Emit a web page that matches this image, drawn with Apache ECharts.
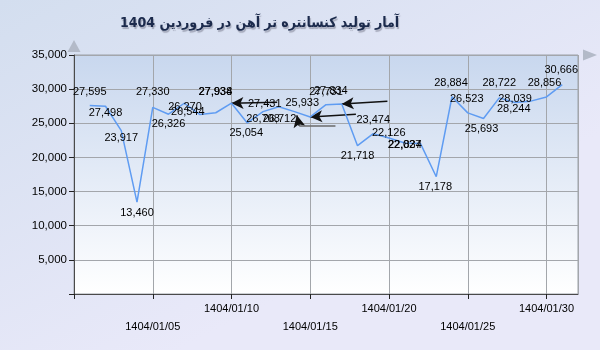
<!DOCTYPE html>
<html>
<head>
<meta charset="utf-8">
<script src="https://cdn.jsdelivr.net/npm/echarts@6/dist/echarts.min.js"></script>
<style>
html,body{margin:0;padding:0;}
#main{width:600px;height:350px;}
</style>
</head>
<body>
<div id="main"></div>
<script>
// ---- data ----
const titleText = 'آمار تولید کنسانتره تر آهن در فروردین 1404';
const datePrefix = '1404/01/';
const days = [1,2,3,4,5,6,7,8,9,10,11,12,13,14,15,16,17,18,19,20,21,22,23,24,25,26,27,28,29,30,31];
const production = [27595,27498,23917,13460,27330,26326,27934,26270,26544,27938,25054,26708,27431,26712,25933,27731,27834,21718,23474,22834,22126,22027,17178,28884,26523,25693,28722,28039,28244,28856,30666];
const yTicks = [0,5000,10000,15000,20000,25000,30000,35000];
const xTickDays = [0,5,10,15,20,25,30];
// points whose labels carry a callout arrow
const calloutDays = [10,15,17];
const bentCalloutDay = 14;

// label placement (style only, px offsets of each value label from its point)
const labelOffsets = [[0,-14],[0,6.5],[0,7],[0,11],[0,-15],[0,10],[31,-11],[-15,-8],[-28,-0.5],[-16,-11],[-1,10],[0,7],[-14,-2.5],[-15,7],[-8,-14],[0,-13],[-11,-13],[0,10],[0,-14],[16,7],[-16,-10],[-16,1],[-1,10.5],[-1,-14],[-1,-14],[-2,10],[0,-15],[0,-4],[-17,7.5],[-2,-14],[-1,-15]];

const fmt = v => v.toLocaleString('en-US');
const pad = d => (d < 10 ? '0' : '') + d;

const chart = echarts.init(document.getElementById('main'), null, {renderer:'canvas'});
const yMin = yTicks[0], yMax = yTicks[yTicks.length-1], yStep = yTicks[1]-yTicks[0];
const xStep = xTickDays[1]-xTickDays[0];

const seriesData = days.map((d,i)=>[d, production[i]]);
const valOf = d => production[days.indexOf(d)];

// callout leader lines, anchored at data points (length/slope are style)
const calloutLines = calloutDays.map(d => [
  {coord:[d, valOf(d)], symbol:'arrow'},
  {coord:[d + 2.9, valOf(d) + (d === 10 ? 150 : 400)], symbol:'none'}
]);
const bd = bentCalloutDay, bv = valOf(bd);
calloutLines.push([
  {coord:[bd + 0.15, bv - 550], symbol:'arrow'},
  {coord:[bd + 0.3, bv - 2100], symbol:'none'}
]);
calloutLines.push([
  {coord:[bd + 0.3, bv - 2100], symbol:'none', lineStyle:{color:'#6a6a6a'}},
  {coord:[bd + 2.6, bv - 2100], symbol:'none'}
]);

const labelFont = 'Liberation Sans, Arial, sans-serif';

const option = {
  backgroundColor: new echarts.graphic.LinearGradient(0,0,0.3,1,[
    {offset:0,color:'#d3deef'},{offset:1,color:'#e9e9f9'}]),
  animation:false,
  title:{
    text:titleText, left:115, top:11,
    textStyle:{fontFamily:'DejaVu Sans Condensed, DejaVu Sans, sans-serif', fontSize:14, fontWeight:'bold', color:'#1b2a4c',
      textShadowColor:'rgba(60,60,80,0.35)', textShadowOffsetX:1, textShadowOffsetY:2, textShadowBlur:1}
  },
  grid:{left:74, right:22, top:55, bottom:56, show:true,
    backgroundColor: new echarts.graphic.LinearGradient(0,0,0,1,[
      {offset:0,color:'#c8d7ee'},{offset:1,color:'#ffffff'}]),
    borderColor:'#9aa0a8', borderWidth:1},
  xAxis:[{
    type:'value', min:0, max:32, interval:xStep, z:5,
    axisLine:{show:true, onZero:false, lineStyle:{color:'#4a4a4a', width:1}},
    axisTick:{show:true, length:5, lineStyle:{color:'#222'}},
    splitLine:{show:true, lineStyle:{color:'#a3a6ab', width:1}},
    axisLabel:{
      margin:6, fontFamily:labelFont, fontSize:11, color:'#000', lineHeight:18,
      showMaxLabel:false,
      formatter: v => {
        if (v === 0 || v > 31) return '';
        const t = datePrefix + pad(v);
        return (v/xStep) % 2 === 1 ? '\n' + t : t;
      }
    }
  },{
    type:'value', min:0, max:32, z:1, show:true,
    axisLine:{show:true, onZero:false, lineStyle:{color:'#b3bac8'}, symbol:['none','triangle'], symbolSize:[11,14], symbolOffset:[0,12]},
    axisTick:{show:false}, axisLabel:{show:false}, splitLine:{show:false}
  }],
  yAxis:[{
    type:'value', min:yMin, max:yMax, interval:yStep, z:5,
    axisLine:{show:true, lineStyle:{color:'#4a4a4a', width:1}},
    axisTick:{show:true, length:5, lineStyle:{color:'#222'}},
    splitLine:{show:true, lineStyle:{color:'#a3a6ab', width:1}},
    axisLabel:{margin:7, fontFamily:labelFont, fontSize:11.5, color:'#000',
      formatter: v => v === 0 ? '' : fmt(v)}
  },{
    type:'value', min:yMin, max:yMax, position:'left', z:1,
    axisLine:{show:true, lineStyle:{color:'#b3bac8'}, symbol:['none','triangle'], symbolSize:[13,12], symbolOffset:[0,9]},
    axisTick:{show:false}, axisLabel:{show:false}, splitLine:{show:false}
  }],
  series:[{
    type:'line', xAxisIndex:0, yAxisIndex:0, z:10,
    data:seriesData,
    symbol:'circle', symbolSize:1, showSymbol:true,
    itemStyle:{color:'rgba(0,0,0,0)'},
    lineStyle:{color:'#5f9cf2', width:1.5},
    label:{show:true, position:'inside', fontFamily:labelFont, fontSize:11, color:'#000',
      formatter: p => fmt(p.value[1])},
    labelLayout: p => ({dx: labelOffsets[p.dataIndex][0], dy: labelOffsets[p.dataIndex][1], hideOverlap:false}),
    emphasis:{disabled:true},
    markLine:{
      silent:true, animation:false, symbolSize:[9,12],
      label:{show:false},
      lineStyle:{color:'#111', width:1.5, type:'solid'},
      emphasis:{disabled:true},
      data:calloutLines
    }
  }]
};
chart.setOption(option);
</script>
</body>
</html>
